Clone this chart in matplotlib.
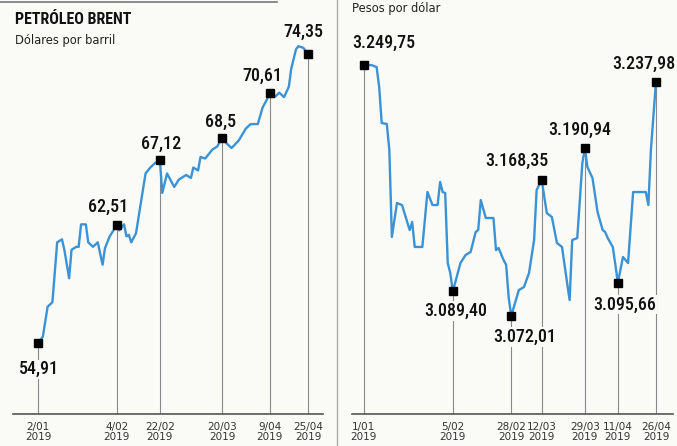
import numpy as np
import matplotlib
matplotlib.use("Agg")
from matplotlib import pyplot as plt
from matplotlib.lines import Line2D

# Petróleo Brent (dólares por barril), día = días desde 1/01/2019
brent_days = [1, 3, 5, 7, 9, 11, 12, 14, 15, 17, 18, 19, 21, 22, 24, 26, 28, 29, 31,
              34, 35, 37, 38, 39, 40, 42, 44, 46, 48, 50, 52, 53, 55, 56, 58, 60, 63,
              65, 66, 68, 69, 71, 74, 76, 78, 80, 82, 85, 88, 90, 93, 95, 97, 98, 100,
              102, 104, 106, 107, 109, 110, 112, 114]
brent_vals = [54.98, 55.4, 57.4, 57.7, 61.7, 61.9, 61.2, 59.3, 61.2, 61.4, 61.4, 62.9,
              62.9, 61.7, 61.4, 61.7, 60.2, 61.3, 62.1, 62.86, 62.5, 62.9, 62.1, 62.2,
              61.7, 62.3, 64.3, 66.3, 66.7, 67.0, 67.2, 65.0, 66.3, 66.0, 65.4, 65.9,
              66.2, 66.0, 66.7, 66.5, 67.4, 67.3, 67.9, 68.1, 68.7, 68.3, 68.0, 68.5,
              69.3, 69.6, 69.6, 70.7, 71.3, 71.7, 71.4, 71.7, 71.4, 72.1, 73.3, 74.6,
              74.8, 74.7, 74.3]
brent_mark_days = [1, 34, 52, 78, 98, 114]
brent_labels = ["54,91", "62,51", "67,12", "68,5", "70,61", "74,35"]
brent_ticks = ["2/01\n2019", "4/02\n2019", "22/02\n2019", "20/03\n2019", "9/04\n2019", "25/04\n2019"]

# Dólar (pesos por dólar)
trm_days = [0, 3, 5, 6, 7, 9, 10, 11, 13, 15, 18, 19, 20, 23, 25, 27, 29, 30, 31, 32,
            33, 34, 35, 38, 40, 42, 44, 45, 46, 48, 51, 52, 53, 55, 56, 57, 58, 61, 63,
            65, 67, 68, 70, 72, 74, 76, 78, 80, 81, 82, 84, 86, 87, 88, 90, 92, 94, 95,
            96, 98, 100, 102, 104, 106, 111, 112, 113, 115]
trm_vals = [3249.75, 3249.7, 3248.3, 3234.2, 3208.7, 3208.0, 3189.6, 3128.0, 3152.0,
            3150.6, 3132.9, 3138.6, 3120.9, 3120.9, 3159.8, 3150.6, 3150.6, 3166.9,
            3159.8, 3159.1, 3109.5, 3102.4, 3089.4, 3109.5, 3115.2, 3117.3, 3131.5,
            3132.9, 3154.1, 3141.4, 3141.4, 3118.7, 3120.2, 3111.6, 3108.1, 3085.0,
            3072.0, 3090.4, 3092.5, 3102.4, 3125.8, 3161.2, 3168.4, 3144.9, 3142.1,
            3123.7, 3120.9, 3095.4, 3083.3, 3125.8, 3127.2, 3180.3, 3190.9, 3177.5,
            3169.7, 3145.6, 3132.9, 3131.5, 3127.2, 3120.9, 3095.7, 3113.8, 3109.5,
            3159.8, 3159.8, 3150.6, 3189.6, 3238.0]
trm_mark_days = [0, 35, 58, 70, 87, 100, 115]
trm_labels = ["3.249,75", "3.089,40", "3.072,01", "3.168,35", "3.190,94", "3.095,66", "3.237,98"]
trm_ticks = ["1/01\n2019", "5/02\n2019", "28/02\n2019", "12/03\n2019", "29/03\n2019",
             "11/04\n2019", "26/04\n2019"]

bg = "#fafbf7"
blue = "#3b92d4"
grey = "#8a8a8a"
label_font = ["Roboto Condensed", "DejaVu Sans Condensed", "Roboto"]

fig = plt.figure(figsize=(6.77, 4.46), dpi=100, facecolor=bg)


def panel(rect, days, vals, mdays, labels, ticks, xlim, ylim, offsets):
    ax = fig.add_axes(rect)
    ax.set_facecolor(bg)
    ax.plot(days, vals, color=blue, lw=1.7, zorder=3)
    mvals = np.interp(mdays, days, vals)
    ax.vlines(mdays, ylim[0], mvals, color=grey, lw=0.8, zorder=1)
    ax.plot(mdays, mvals, "s", color="black", ms=6, zorder=4)
    for d, v, lab, off in zip(mdays, mvals, labels, offsets):
        ax.annotate(lab, (d, v), xytext=off, textcoords="offset points",
                    ha="center", va="center", fontsize=13, family=label_font,
                    fontweight="medium", color="#111111", zorder=5,
                    bbox=dict(facecolor=bg, edgecolor="none", pad=0.5))
    ax.set_xlim(*xlim)
    ax.set_ylim(*ylim)
    ax.set_xticks(mdays)
    ax.set_xticklabels(ticks, fontsize=7.5, color="#333333", linespacing=1.0)
    ax.tick_params(axis="x", length=0, pad=6)
    ax.set_yticks([])
    for s in ["top", "left", "right"]:
        ax.spines[s].set_visible(False)
    ax.spines["bottom"].set_color("#555555")
    ax.spines["bottom"].set_linewidth(1.2)
    return ax


# offsets in points (dx, dy) from the marker
brent_off = [(1, -19), (-6, 13), (1, 12), (-1, 11), (-5, 12), (-3, 16)]
trm_off = [(14, 16), (2, -14), (10, -15), (-18, 14), (-4, 13), (5, -16), (-9, 13)]

panel([13 / 677, 32 / 446, 310 / 677, 414 / 446], brent_days, brent_vals,
      brent_mark_days, brent_labels, brent_ticks, (-9.5, 120.3), (50.23, 77.89), brent_off)
panel([352 / 677, 32 / 446, 321 / 677, 414 / 446], trm_days, trm_vals,
      trm_mark_days, trm_labels, trm_ticks, (-4.7, 121.7), (3002.6, 3295.8), trm_off)

fig.text(15 / 677, 1 - 12 / 446, "PETRÓLEO BRENT", fontsize=11.5, fontweight="bold",
         family=["Roboto Condensed", "Roboto"], va="top", ha="left", color="#111111")
fig.text(15 / 677, 1 - 34 / 446, "Dólares por barril", fontsize=8.3, va="top", ha="left",
         color="#222222")
fig.text(352 / 677, 1 - 2 / 446, "Pesos por dólar", fontsize=8.3, va="top", ha="left",
         color="#222222")

# marcos del recorte
fig.add_artist(Line2D([0, 277 / 677], [1 - 2 / 446, 1 - 2 / 446], color="#777777", lw=1.2))
fig.add_artist(Line2D([337 / 677, 337 / 677], [0, 1], color="#aaaaaa", lw=1.0))

fig.savefig("out.png", dpi=100, facecolor=bg)
